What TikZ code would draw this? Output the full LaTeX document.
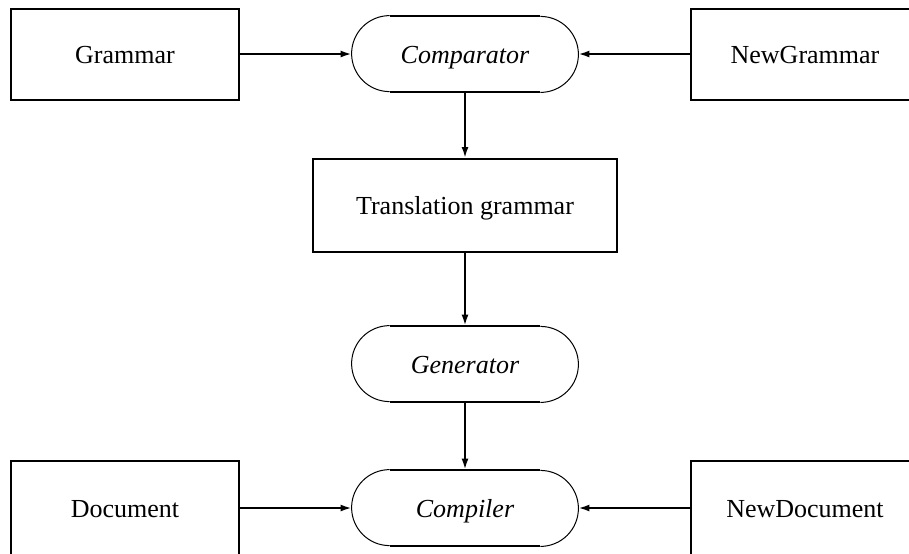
\documentclass[tikz,border=0pt]{standalone}
\usepackage{fontspec}
\setmainfont{Liberation Serif}
\usetikzlibrary{arrows.meta}

\begin{document}
\begin{tikzpicture}[x=0.5pt,y=-0.5pt,font=\fontsize{13}{15}\selectfont,
  box/.style={rectangle,draw,line width=1pt,inner sep=0pt,text height=0.9em,text depth=0pt,minimum width=114pt,minimum height=#1},
  proc/.style={rectangle,inner sep=0pt,text height=0.9em,text depth=0pt,minimum width=113pt,minimum height=38pt,font=\fontsize{13}{15}\selectfont\itshape},
  flow/.style={line width=1pt,-{Latex[length=5.5pt,width=3.5pt]}}]
\clip (0,0) rectangle (909,553);
% inputs and outputs
\node[box=45.5pt] (gram) at (125,54) {Grammar};
\node[box=45.5pt] (ngram) at (805,54) {NewGrammar};
\node[box=46.5pt,minimum width=152pt] (trans) at (465,205.5) {Translation grammar};
\node[box=47pt] (doc) at (125,508) {Document};
\node[box=47pt] (ndoc) at (805,508) {NewDocument};
% processes
\node[proc] (cmp) at (465,54) {Comparator};
\node[proc] (gen) at (465,364) {Generator};
\node[proc] (cpl) at (465,508) {Compiler};
\foreach \n in {cmp,gen,cpl}{
  \draw[line width=1pt] ([xshift=19pt]\n.north west) -- ([xshift=-19pt]\n.north east)
     ([xshift=19pt]\n.south west) -- ([xshift=-19pt]\n.south east);
  \draw[line width=0.5pt] ([xshift=19pt]\n.north west) arc[start angle=90,end angle=270,radius=19pt]
     ([xshift=-19pt]\n.south east) arc[start angle=-90,end angle=90,radius=19pt];
}
\draw[flow] (gram) -- (cmp);
\draw[flow] (ngram) -- (cmp);
\draw[flow] (cmp) -- (trans);
\draw[flow] (trans) -- (gen);
\draw[flow] (gen) -- (cpl);
\draw[flow] (doc) -- (cpl);
\draw[flow] (ndoc) -- (cpl);
\end{tikzpicture}
\end{document}
